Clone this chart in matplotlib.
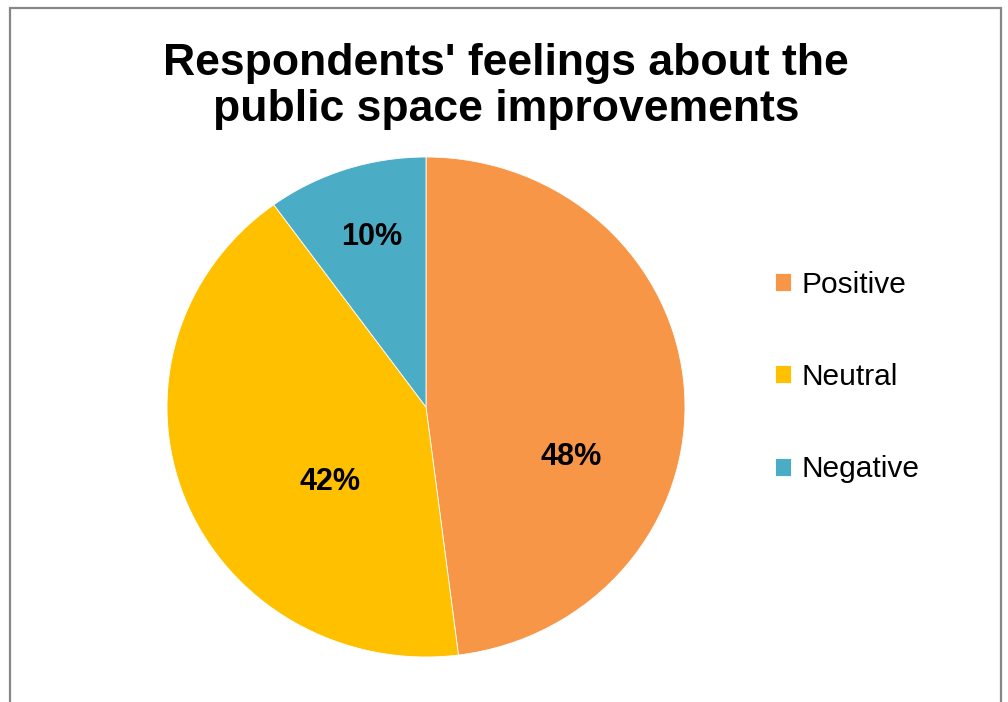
import matplotlib
matplotlib.use('Agg')
import matplotlib.pyplot as plt
from matplotlib.patches import Rectangle

plt.rcParams['font.family'] = ['Liberation Sans', 'DejaVu Sans']

# survey answers
categories = ['Positive', 'Neutral', 'Negative']
shares = [48, 42, 10]
colors = ['#F79646', '#FFC000', '#4BACC6']
title_lines = ["Respondents' feelings about the", "public space improvements"]

# where the percent labels sit inside each slice (unit-circle coords)
label_pos = [(0.56, -0.20), (-0.37, -0.30), (-0.21, 0.68)]

W, H = 1008, 702
fig = plt.figure(figsize=(W / 100, H / 100), dpi=100)

# chart frame (bottom edge runs off the image)
fig.patches.append(Rectangle((10 / W, -0.05), 991 / W, 1.05 - 8 / H,
                             transform=fig.transFigure, fill=False,
                             edgecolor='#878787', linewidth=1.6))

ax = fig.add_axes([167 / W, 45 / H, 518 / W, 500 / H])
wedges, texts, autotexts = ax.pie(
    shares, colors=colors, startangle=90, counterclock=False,
    autopct='%1.0f%%', radius=1.0,
    wedgeprops=dict(edgecolor='white', linewidth=0.6),
    textprops=dict(fontsize=22, fontweight='bold', color='black'))
for t, (x, y) in zip(autotexts, label_pos):
    t.set_position((x, y))
ax.set_aspect('auto')
ax.set_xlim(-1, 1)
ax.set_ylim(-1, 1)

# two-line title, one baseline per line
for line, base in zip(title_lines, [75, 121]):
    fig.text(506 / W, 1 - base / H, line, ha='center', va='baseline',
             fontsize=32, fontweight='bold')

fig.legend(wedges, categories, loc='center left',
           bbox_to_anchor=(775 / W, 1 - 377 / H), frameon=False,
           fontsize=21.5, handlelength=0.55, handleheight=0.55,
           handletextpad=0.35, labelspacing=2.15, borderpad=0,
           borderaxespad=0)

fig.savefig('out.png', dpi=100)
